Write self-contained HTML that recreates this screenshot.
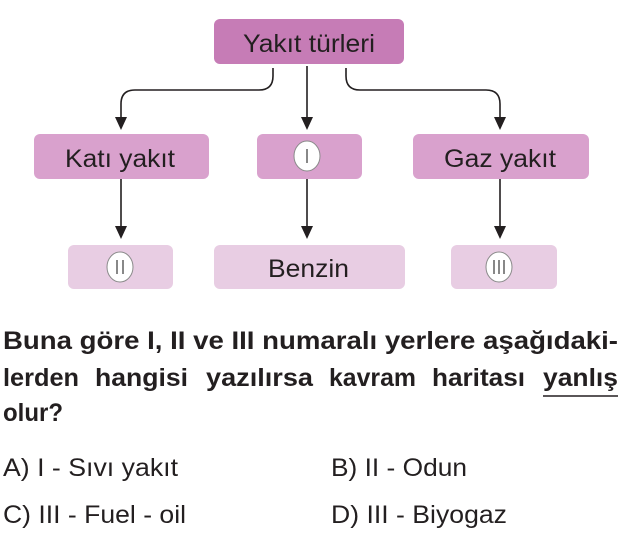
<!DOCTYPE html>
<html><head><meta charset="utf-8"><style>
html,body{margin:0;padding:0;background:#fff;}
svg{display:block}
text{font-family:"Liberation Sans",sans-serif;fill:#231f20}
</style></head><body>
<svg width="621" height="535" viewBox="0 0 621 535" xmlns="http://www.w3.org/2000/svg">
<rect x="214" y="19" width="190" height="45" rx="6" fill="#c67cb6"/>
<rect x="34" y="134" width="175" height="45" rx="6" fill="#d9a1cd"/>
<rect x="257" y="134" width="105" height="45" rx="6" fill="#d9a1cd"/>
<rect x="413" y="134" width="176" height="45" rx="6" fill="#d9a1cd"/>
<rect x="68" y="245" width="105" height="44" rx="6" fill="#e8cde3"/>
<rect x="214" y="245" width="191" height="44" rx="6" fill="#e8cde3"/>
<rect x="451" y="245" width="106" height="44" rx="6" fill="#e8cde3"/>
<g fill="none" stroke="#231f20" stroke-width="1.6">
<path d="M273 68 L273 76 Q273 90 259 90 L135 90 Q121 90 121 104 L121 122"/>
<path d="M307 66 L307 122"/>
<path d="M346 68 L346 76 Q346 90 360 90 L486 90 Q500 90 500 104 L500 122"/>
<path d="M121 179 L121 232"/>
<path d="M307 179 L307 232"/>
<path d="M500 179 L500 232"/>
</g>
<g fill="#231f20">
<polygon points="115,117 127,117 121,130"/>
<polygon points="301,117 313,117 307,130"/>
<polygon points="494,117 506,117 500,130"/>
<polygon points="115,226 127,226 121,239"/>
<polygon points="301,226 313,226 307,239"/>
<polygon points="494,226 506,226 500,239"/>
</g>
<g fill="#fff" stroke="#8a8a8a" stroke-width="1">
<ellipse cx="307" cy="156" rx="13" ry="15"/>
<ellipse cx="120" cy="267" rx="13" ry="15"/>
<ellipse cx="499" cy="267" rx="13" ry="15"/>
</g>
<g stroke="#6a6a6a" stroke-width="1.6">
<line x1="307" y1="149" x2="307" y2="163"/>
<line x1="117" y1="260" x2="117" y2="274"/>
<line x1="123" y1="260" x2="123" y2="274"/>
<line x1="494" y1="260" x2="494" y2="274"/>
<line x1="499" y1="260" x2="499" y2="274"/>
<line x1="504" y1="260" x2="504" y2="274"/>
</g>
<text x="243" y="52" font-size="25" textLength="132" lengthAdjust="spacingAndGlyphs">Yakıt türleri</text>
<text x="65" y="167" font-size="25" textLength="110" lengthAdjust="spacingAndGlyphs">Katı yakıt</text>
<text x="444" y="167" font-size="25" textLength="112" lengthAdjust="spacingAndGlyphs">Gaz yakıt</text>
<text x="268" y="277" font-size="25" textLength="81" lengthAdjust="spacingAndGlyphs">Benzin</text>
<g font-weight="bold" font-size="25">
<text x="3" y="349" textLength="615" lengthAdjust="spacingAndGlyphs">Buna göre I, II ve III numaralı yerlere aşağıdaki-</text>
<text x="3" y="386" textLength="76" lengthAdjust="spacingAndGlyphs">lerden</text>
<text x="95" y="386" textLength="93" lengthAdjust="spacingAndGlyphs">hangisi</text>
<text x="206" y="386" textLength="107" lengthAdjust="spacingAndGlyphs">yazılırsa</text>
<text x="329" y="386" textLength="87" lengthAdjust="spacingAndGlyphs">kavram</text>
<text x="432" y="386" textLength="93" lengthAdjust="spacingAndGlyphs">haritası</text>
<text x="543" y="386" textLength="75" lengthAdjust="spacingAndGlyphs">yanlış</text>
<text x="3" y="421" textLength="60" lengthAdjust="spacingAndGlyphs">olur?</text>
</g>
<line x1="543" y1="396" x2="618" y2="396" stroke="#231f20" stroke-width="1.6"/>
<g font-size="25">
<text x="3" y="476" textLength="175" lengthAdjust="spacingAndGlyphs">A) I - Sıvı yakıt</text>
<text x="331" y="476" textLength="136" lengthAdjust="spacingAndGlyphs">B) II - Odun</text>
<text x="3" y="523" textLength="183" lengthAdjust="spacingAndGlyphs">C) III - Fuel - oil</text>
<text x="331" y="523" textLength="176" lengthAdjust="spacingAndGlyphs">D) III - Biyogaz</text>
</g>
</svg>
</body></html>
